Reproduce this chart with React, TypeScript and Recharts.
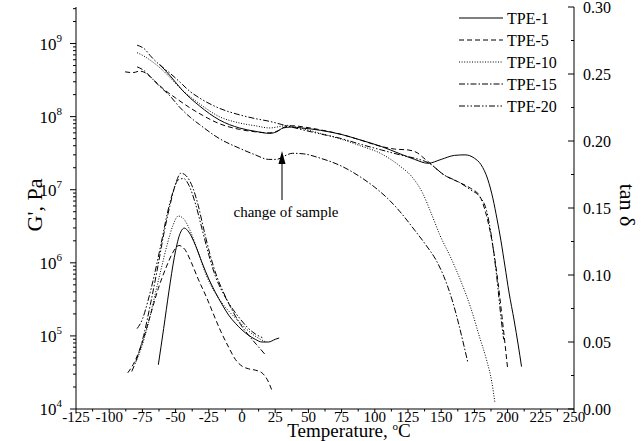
import React from 'react';
import { LineChart, Line, XAxis, YAxis, Legend } from 'recharts';

const FONT = '"Liberation Serif", "Times New Roman", serif';

// storage modulus G' in Pa, pairs of [temperature °C, G']
const gTpe1: [number, number][] = [
  [-62, 5.2e8], [-54, 3.6e8], [-45, 2.3e8], [-32, 1.4e8], [-17, 9.0e7], [-2, 7.0e7], [10, 6.3e7],
  [21, 5.9e7], [26, 6.2e7], [31, 7.0e7], [37, 7.2e7], [45, 7.0e7], [59, 6.5e7], [75, 5.7e7],
  [89, 4.8e7], [105, 3.9e7], [119, 3.1e7], [130, 2.6e7], [140, 2.3e7], [150, 2.6e7], [160, 2.95e7],
  [168, 3.0e7], [175, 2.7e7], [180, 2.2e7], [185, 1.4e7], [189, 7.5e6], [192, 4e6], [195, 2e6],
  [198, 9e5], [201, 4e5], [205, 1.6e5], [208, 7.5e4], [210.5, 3.8e4],
];
const gTpe5: [number, number][] = [
  [-88, 4.1e8], [-82, 4.0e8], [-77, 4.2e8], [-72, 3.9e8], [-66, 3.1e8], [-58, 2.3e8], [-50, 1.8e8],
  [-40, 1.35e8], [-30, 1.05e8], [-17, 8.0e7], [-2, 6.7e7], [10, 6.2e7], [21, 6.0e7], [27, 6.4e7],
  [32, 7.2e7], [38, 7.5e7], [47, 7.2e7], [59, 6.6e7], [75, 5.7e7], [89, 4.8e7], [105, 3.9e7],
  [115, 3.6e7], [125, 3.5e7], [132, 3.2e7], [137, 2.7e7], [141, 2.35e7], [152, 1.6e7], [164, 1.25e7],
  [172, 1.05e7], [179, 8.2e6], [184, 4.5e6], [188, 2.1e6], [192, 7e5], [196, 1.7e5], [200, 3.6e4],
];
const gTpe10: [number, number][] = [
  [-79, 7.5e8], [-73, 6.6e8], [-69, 5.9e8], [-62, 4.7e8], [-54, 3.4e8], [-47, 2.5e8], [-32, 1.5e8],
  [-17, 1.0e8], [-2, 8.2e7], [10, 7.5e7], [21, 7.0e7], [28, 7.3e7], [34, 7.6e7], [42, 7.1e7],
  [59, 5.9e7], [75, 4.9e7], [89, 4.0e7], [105, 3.1e7], [119, 2.1e7], [128, 1.5e7], [136, 9e6],
  [143, 4.5e6], [149, 2.4e6], [157, 1.2e6], [165, 5.5e5], [172, 2.5e5], [179, 9.5e4], [184, 4.8e4],
  [188, 2.4e4], [190.5, 1.2e4],
];
const gTpe15: [number, number][] = [
  [-79, 4.8e8], [-74, 4.3e8], [-69, 3.5e8], [-62, 2.6e8], [-54, 1.9e8], [-47, 1.35e8], [-39, 9.8e7],
  [-32, 7.8e7], [-17, 5.0e7], [-2, 3.7e7], [10, 3.0e7], [20, 2.6e7], [26, 2.6e7], [32, 2.9e7],
  [38, 3.15e7], [46, 3.1e7], [59, 2.7e7], [75, 2.1e7], [89, 1.5e7], [100, 1.08e7], [110, 7.5e6],
  [119, 5.0e6], [130, 2.8e6], [139, 1.7e6], [146, 1.1e6], [152, 6.5e5], [158, 3.2e5], [163, 1.5e5],
  [167, 7.5e4], [170, 4.4e4],
];
const gTpe20: [number, number][] = [
  [-79, 9.5e8], [-73, 8.3e8], [-69, 6.8e8], [-62, 5.1e8], [-54, 3.9e8], [-47, 3.0e8], [-39, 2.2e8],
  [-32, 1.8e8], [-17, 1.3e8], [-2, 1.06e8], [10, 9.4e7], [21, 8.6e7], [30, 7.8e7], [40, 7.0e7],
  [59, 5.8e7], [75, 5.0e7], [89, 4.2e7], [105, 3.5e7], [119, 3.0e7], [130, 2.7e7], [141, 2.3e7],
  [152, 1.6e7], [164, 1.25e7], [172, 1.0e7], [179, 8e6], [184, 5.3e6], [188, 2.2e6], [192, 6e5],
  [195, 1.8e5], [197, 9e4],
];

// loss factor tan δ, pairs of [temperature °C, tan δ]
const tanTpe1: [number, number][] = [
  [-63, 0.033], [-59, 0.06], [-55, 0.088], [-51, 0.113], [-47, 0.13], [-43.5, 0.135], [-40, 0.132],
  [-35, 0.122], [-30, 0.109], [-25, 0.097], [-20, 0.087], [-15, 0.078], [-10, 0.07], [-5, 0.064],
  [0, 0.059], [5, 0.055], [10, 0.052], [15, 0.05], [20, 0.05], [25, 0.052], [28, 0.053],
];
const tanTpe5: [number, number][] = [
  [-86, 0.027], [-81, 0.035], [-75, 0.05], [-69, 0.07], [-63, 0.09], [-57, 0.106], [-52, 0.117],
  [-47.5, 0.122], [-43, 0.119], [-38, 0.109], [-33, 0.097], [-27, 0.084], [-22, 0.072], [-16, 0.058],
  [-10, 0.046], [-5, 0.037], [0, 0.032], [5, 0.03], [10, 0.029], [15, 0.027], [19, 0.022], [22.5, 0.014],
];
const tanTpe10: [number, number][] = [
  [-80, 0.035], [-76, 0.045], [-71, 0.062], [-66, 0.083], [-61, 0.104], [-56, 0.124], [-52, 0.137],
  [-48, 0.144], [-44, 0.142], [-39, 0.133], [-33, 0.117], [-27, 0.1], [-21, 0.088], [-15, 0.079],
  [-9, 0.072], [-3, 0.066], [3, 0.06], [9, 0.055], [14, 0.052], [18, 0.05],
];
const tanTpe15: [number, number][] = [
  [-83, 0.028], [-79, 0.038], [-74, 0.055], [-69, 0.078], [-64, 0.103], [-59, 0.13], [-54, 0.153],
  [-50, 0.168], [-46, 0.176], [-42, 0.174], [-37, 0.165], [-33, 0.152], [-29, 0.135], [-24, 0.115],
  [-19, 0.099], [-13, 0.085], [-7, 0.073], [-1, 0.063], [5, 0.055], [11, 0.048], [18, 0.04],
];
const tanTpe20: [number, number][] = [
  [-79, 0.06], [-75, 0.067], [-71, 0.08], [-66, 0.1], [-61, 0.123], [-56, 0.147], [-52, 0.162],
  [-48, 0.171], [-44, 0.172], [-40, 0.167], [-35, 0.153], [-30, 0.134], [-25, 0.115], [-20, 0.099],
  [-14, 0.086], [-8, 0.076], [-2, 0.068], [4, 0.061], [10, 0.056], [16, 0.053],
];

const seriesNames = ['TPE-1', 'TPE-5', 'TPE-10', 'TPE-15', 'TPE-20'];
const seriesDash = ['', '5 3', '1 1.6', '6 2 1.5 2', '6 2 1.5 2 1.5 2'];
const gData = [gTpe1, gTpe5, gTpe10, gTpe15, gTpe20];
const tanData = [tanTpe1, tanTpe5, tanTpe10, tanTpe15, tanTpe20];

const xTicks: number[] = [];
for (let v = -125; v <= 250; v += 12.5) xTicks.push(v);
const gTicks: number[] = [];
for (let e = 4; e <= 9; e++) {
  for (let m = 1; m <= 9; m++) {
    const v = m * 10 ** e;
    if (v <= 3.16e9) gTicks.push(v);
  }
}
const tanTicks: number[] = [];
for (let i = 0; i <= 12; i++) tanTicks.push(i * 0.025);

const toRows = (pairs: [number, number][]) => pairs.map(([t, v]) => ({ t, v }));

const BottomTick = (props: any) => {
  const { x, y, payload } = props;
  const v = payload.value;
  const major = Math.abs((v + 125) % 25) < 1e-6;
  return (
    <g>
      <line x1={x} x2={x} y1={y} y2={y + (major ? 4 : 2.5)} stroke="#000" />
      {major && (
        <text x={x} y={y + 13} textAnchor="middle" fontSize={15} fontFamily={FONT} fill="#000">
          {v}
        </text>
      )}
    </g>
  );
};

const LeftTick = (props: any) => {
  const { x, y, payload } = props;
  const lg = Math.log10(payload.value);
  const major = Math.abs(lg - Math.round(lg)) < 1e-6;
  return (
    <g>
      <line x1={x - (major ? 6 : 3)} x2={x} y1={y} y2={y} stroke="#000" />
      {major && (
        <text x={x - 14} y={y + 6} textAnchor="end" fontSize={17} fontFamily={FONT} fill="#000">
          10
          <tspan dy={-8} fontSize={11}>
            {Math.round(lg)}
          </tspan>
        </text>
      )}
    </g>
  );
};

const RightTick = (props: any) => {
  const { x, y, payload } = props;
  const v = payload.value;
  const major = Math.abs(v / 0.05 - Math.round(v / 0.05)) < 1e-6;
  return (
    <g>
      <line x1={x - (major ? 6 : 3)} x2={x} y1={y} y2={y} stroke="#000" />
      {major && (
        <text x={x + 9} y={y + 6} textAnchor="start" fontSize={16} fontFamily={FONT} fill="#000">
          {v.toFixed(2)}
        </text>
      )}
    </g>
  );
};

const LegendBox = () => (
  <svg width={120} height={112}>
    {seriesNames.map((name, i) => (
      <g key={name}>
        <line x1={4} x2={48} y1={11 + i * 22} y2={11 + i * 22} stroke="#000" strokeDasharray={seriesDash[i] || undefined} />
        <text x={52} y={17 + i * 22} fontSize={16} fontFamily={FONT} fill="#000">
          {name}
        </text>
      </g>
    ))}
  </svg>
);

export default function App() {
  return (
    <div style={{ position: 'absolute', left: 0, top: 0, width: 642, height: 441, background: '#fff', fontFamily: FONT }}>
      <LineChart width={642} height={441} margin={{ top: 7, right: 0, bottom: 0, left: 0 }}>
        <XAxis
          dataKey="t"
          type="number"
          domain={[-125, 250]}
          ticks={xTicks}
          interval={0}
          allowDataOverflow
          tick={BottomTick}
          tickLine={false}
          tickSize={0}
          tickMargin={0}
          axisLine={{ stroke: '#000' }}
          height={32}
          label={() => (
            <text x={349} y={437} textAnchor="middle" fontSize={19} fontFamily={FONT} fill="#000">
              Temperature,{' '}
              <tspan dy={-7} fontSize={11}>
                o
              </tspan>
              <tspan dy={7}>C</tspan>
            </text>
          )}
        />
        <XAxis xAxisId="top" orientation="top" dataKey="t" type="number" domain={[-125, 250]} height={0} tick={false} tickLine={false} axisLine={{ stroke: '#000' }} />
        <YAxis
          yAxisId="left"
          type="number"
          scale="log"
          domain={[1e4, 10 ** 9.5]}
          allowDataOverflow
          ticks={gTicks}
          interval={0}
          tick={LeftTick}
          tickLine={false}
          tickSize={0}
          tickMargin={0}
          axisLine={{ stroke: '#000' }}
          width={76}
          label={({ viewBox }: any) => {
            const cx = 34;
            const cy = viewBox.y + viewBox.height / 2 - 3;
            return (
              <text x={cx} y={cy} transform={`rotate(-90 ${cx} ${cy})`} textAnchor="middle" dominantBaseline="central" fontSize={22} fontFamily={FONT} fill="#000">
                G', Pa
              </text>
            );
          }}
        />
        <YAxis
          yAxisId="right"
          orientation="right"
          type="number"
          domain={[0, 0.3]}
          allowDataOverflow
          ticks={tanTicks}
          interval={0}
          tick={RightTick}
          tickLine={false}
          tickSize={0}
          tickMargin={0}
          axisLine={{ stroke: '#000' }}
          width={68}
          label={({ viewBox }: any) => {
            const cx = 627;
            const cy = viewBox.y + viewBox.height / 2 - 3;
            return (
              <text x={cx} y={cy} transform={`rotate(90 ${cx} ${cy})`} textAnchor="middle" dominantBaseline="central" fontSize={22} fontFamily={FONT} fill="#000">
                tan δ
              </text>
            );
          }}
        />
        <Legend
          layout="vertical"
          align="center"
          verticalAlign="middle"
          content={LegendBox}
          wrapperStyle={{ left: 455, top: 7, width: 120, height: 112 }}
        />
        {gData.map((d, i) => (
          <Line
            key={'g' + i}
            yAxisId="left"
            data={toRows(d)}
            dataKey="v"
            name={seriesNames[i]}
            type="monotone"
            stroke="#000"
            strokeWidth={1}
            strokeDasharray={seriesDash[i] || undefined}
            dot={false}
            isAnimationActive={false}
          />
        ))}
        {tanData.map((d, i) => (
          <Line
            key={'tan' + i}
            yAxisId="right"
            data={toRows(d)}
            dataKey="v"
            name={seriesNames[i] + ' tan δ'}
            type="monotone"
            stroke="#000"
            strokeWidth={1}
            strokeDasharray={seriesDash[i] || undefined}
            dot={false}
            legendType="none"
            isAnimationActive={false}
          />
        ))}
      </LineChart>
      <svg width={642} height={441} style={{ position: 'absolute', left: 0, top: 0, pointerEvents: 'none' }}>
        <line x1={282} y1={200} x2={282} y2={162} stroke="#333" strokeWidth={1.3} />
        <path d="M278.5,164 L282,151 L285.5,164 Z" fill="#000" />
        <text x={286} y={217} textAnchor="middle" fontSize={15} fontFamily={FONT} fill="#000">
          change of sample
        </text>
      </svg>
    </div>
  );
}
